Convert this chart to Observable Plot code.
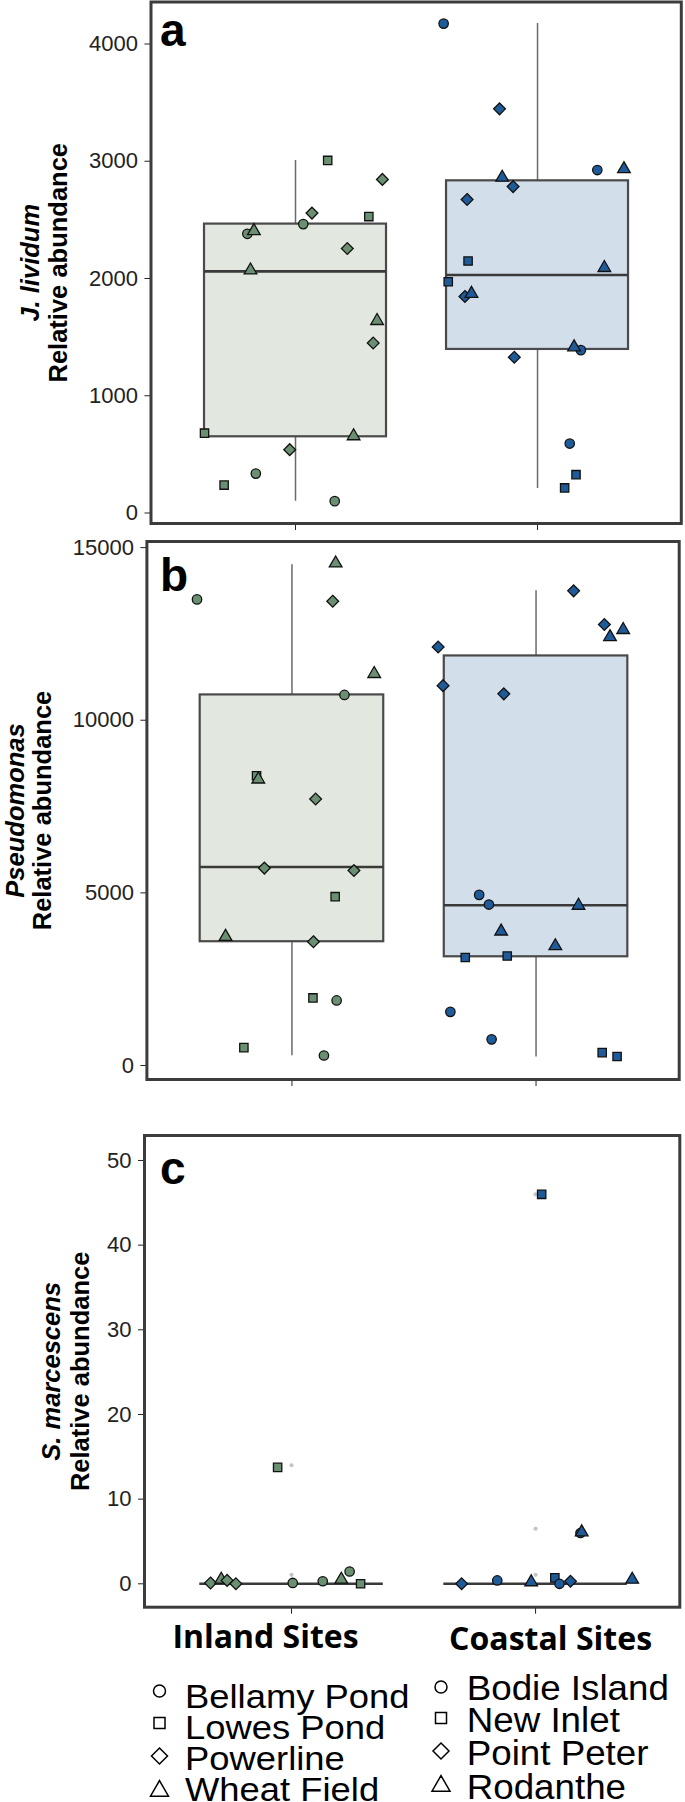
<!DOCTYPE html>
<html>
<head>
<meta charset="utf-8">
<script src="https://cdn.jsdelivr.net/npm/d3@7"></script>
<script src="https://cdn.jsdelivr.net/npm/@observablehq/plot@0.6"></script>
<style>
  html, body { margin: 0; padding: 0; background: #fff; }
  #root { position: relative; width: 685px; height: 1802px; overflow: hidden; background: #fff; }
</style>
</head>
<body>
<div id="root"></div>
<script>
// ---------------- data ----------------
const groups = ["Inland Sites", "Coastal Sites"];
const inlandSites = ["Bellamy Pond", "Lowes Pond", "Powerline", "Wheat Field"];
const coastalSites = ["Bodie Island", "New Inlet", "Point Peter", "Rodanthe"];
const panelLetters = ["a", "b", "c"];
const taxa = ["J. lividum", "Pseudomonas", "S. marcescens"];
const yLabel = "Relative abundance";
const yTicksA = [0, 1000, 2000, 3000, 4000];
const yTicksB = [0, 5000, 10000, 15000];
const yTicksC = [0, 10, 20, 30, 40, 50];

// points: [site, jittered group position (1 = Inland, 2 = Coastal), relative abundance]
const jlividumPoints = [
  ["Bellamy Pond", 0.801, 2381], ["Bellamy Pond", 1.032, 2464], ["Bellamy Pond", 0.836, 336], ["Bellamy Pond", 1.162, 101],
  ["Lowes Pond", 1.133, 3007], ["Lowes Pond", 1.303, 2528], ["Lowes Pond", 0.624, 681], ["Lowes Pond", 0.705, 238],
  ["Powerline", 1.068, 2558], ["Powerline", 1.214, 2256], ["Powerline", 1.359, 2845], ["Powerline", 1.321, 1450], ["Powerline", 0.976, 540],
  ["Wheat Field", 0.828, 2406], ["Wheat Field", 0.814, 2070], ["Wheat Field", 1.337, 1639], ["Wheat Field", 1.240, 656],
  ["Bodie Island", 1.612, 4174], ["Bodie Island", 2.247, 2925], ["Bodie Island", 2.179, 1389], ["Bodie Island", 2.133, 592],
  ["New Inlet", 1.713, 2149], ["New Inlet", 1.631, 1972], ["New Inlet", 2.159, 327], ["New Inlet", 2.112, 214],
  ["Point Peter", 1.843, 3447], ["Point Peter", 1.709, 2674], ["Point Peter", 1.899, 2784], ["Point Peter", 1.700, 1847], ["Point Peter", 1.904, 1328],
  ["Rodanthe", 1.854, 2861], ["Rodanthe", 2.357, 2934], ["Rodanthe", 2.276, 2091], ["Rodanthe", 1.727, 1871], ["Rodanthe", 2.151, 1414]
];
const pseudomonasPoints = [
  ["Bellamy Pond", 0.611, 13500], ["Bellamy Pond", 1.215, 10733], ["Bellamy Pond", 1.183, 1885], ["Bellamy Pond", 1.131, 290],
  ["Lowes Pond", 0.855, 8391], ["Lowes Pond", 1.177, 4890], ["Lowes Pond", 1.086, 1958], ["Lowes Pond", 0.803, 518],
  ["Wheat Field", 1.179, 14545], ["Wheat Field", 1.337, 11344], ["Wheat Field", 0.862, 8288], ["Wheat Field", 0.728, 3730],
  ["Powerline", 1.167, 13447], ["Powerline", 1.097, 7718], ["Powerline", 0.887, 5718], ["Powerline", 1.254, 5646], ["Powerline", 1.088, 3585],
  ["Bodie Island", 1.767, 4942], ["Bodie Island", 1.807, 4662], ["Bodie Island", 1.649, 1554], ["Bodie Island", 1.818, 757],
  ["New Inlet", 1.710, 3129], ["New Inlet", 1.882, 3170], ["New Inlet", 2.271, 373], ["New Inlet", 2.332, 259],
  ["Point Peter", 2.154, 13747], ["Point Peter", 2.280, 12773], ["Point Peter", 1.599, 12120], ["Point Peter", 1.619, 11002], ["Point Peter", 1.868, 10764],
  ["Rodanthe", 2.357, 12618], ["Rodanthe", 2.303, 12411], ["Rodanthe", 2.174, 4631], ["Rodanthe", 1.857, 3885], ["Rodanthe", 2.079, 3460]
];
const serratiaPoints = [
  ["Powerline", 0.668, 0.1], ["Wheat Field", 0.712, 0.5], ["Powerline", 0.736, 0.4], ["Powerline", 0.772, 0],
  ["Bellamy Pond", 1.005, 0.1], ["Bellamy Pond", 1.128, 0.3], ["Wheat Field", 1.204, 0.5], ["Bellamy Pond", 1.238, 1.45],
  ["Lowes Pond", 1.283, 0], ["Lowes Pond", 0.943, 13.75],
  ["Point Peter", 1.697, 0], ["Bodie Island", 1.843, 0.4], ["Rodanthe", 1.982, 0.2], ["New Inlet", 2.079, 0.7],
  ["Bodie Island", 2.098, 0], ["Point Peter", 2.143, 0.3], ["Rodanthe", 2.396, 0.5], ["New Inlet", 2.025, 46],
  ["Bodie Island", 2.184, 6], ["Rodanthe", 2.189, 6.1]
];

// box statistics: [group position, lower whisker, Q1, median, Q3, upper whisker]
const jlividumBoxes = [[1, 101, 650, 2061, 2464, 3007], [2, 208, 1395, 2030, 2833, 4174]];
const pseudomonasBoxes = [[1, 280, 3585, 5750, 10733, 14504], [2, 249, 3149, 4641, 11862, 13747]];
const serratiaBoxes = [[1, 0, 0, 0, 0, 0], [2, 0, 0, 0, 0, 0]];
// box-plot outliers (small grey dots): [group position, value]
const serratiaOutliers = [[1, 14], [1, 1.06], [2, 46], [2, 6.5], [2, 1.06]];

// ---------------- styling ----------------
const FONT = "'Liberation Sans', Arial, Helvetica, sans-serif";
const pointColors = ["#6a9071", "#1f5b98"];
const boxFills = ["#e2e8df", "#d2deea"];
const diamond = { draw(ctx, size) { const r = Math.sqrt(size / 2); ctx.moveTo(0, -r); ctx.lineTo(r, 0); ctx.lineTo(0, r); ctx.lineTo(-r, 0); ctx.closePath(); } };
const shapeRange = [d3.symbolCircle, d3.symbolSquare, diamond, d3.symbolTriangle];
const BW = 0.376;

const root = document.getElementById("root");
function place(el, top) {
  el.style.position = "absolute";
  el.style.left = "0px";
  el.style.top = top + "px";
  root.appendChild(el);
}

function panel(points, boxes, outliers, ticks, letter, taxon, L) {
  const boxRows = boxes.map(([g, lo, q1, med, q3, hi]) => ({ g, lo, q1, med, q3, hi }));
  const ptRows = points.map(([site, x, v]) => ({ site, x, v, group: inlandSites.includes(site) ? groups[0] : groups[1] }));
  const marks = [
    Plot.ruleX(boxRows, { x: "g", y1: "lo", y2: "hi", stroke: "#6a6a6a", strokeWidth: 1.5 }),
    Plot.rect(boxRows.filter(d => d.g === 1), { x1: d => d.g - BW, x2: d => d.g + BW, y1: "q1", y2: "q3", fill: boxFills[0], stroke: "#4a4a4a", strokeWidth: 2.2 }),
    Plot.rect(boxRows.filter(d => d.g === 2), { x1: d => d.g - BW, x2: d => d.g + BW, y1: "q1", y2: "q3", fill: boxFills[1], stroke: "#4a4a4a", strokeWidth: 2.2 }),
    Plot.ruleY(boxRows, { x1: d => d.g - BW, x2: d => d.g + BW, y: "med", stroke: "#3a3a3a", strokeWidth: 2.6 }),
    Plot.dot(outliers, { x: d => d[0], y: d => d[1], r: 2.1, fill: "#c4c4c4", stroke: "none" }),
    Plot.dot(ptRows, { x: "x", y: "v", symbol: "site", fill: "group", stroke: "#111", strokeWidth: 1.3, r: 4.7 }),
    Plot.frame({ stroke: "#3c3c3c", strokeWidth: 3 }),
    Plot.text([letter], { text: d => d, frameAnchor: "top-left", textAnchor: "start", lineAnchor: "bottom", dx: L.ldx, dy: L.ldy, fontSize: 46, fontWeight: "bold", fill: "#000" }),
    Plot.text([taxon], { text: d => d, frameAnchor: "left", rotate: -90, textAnchor: "middle", lineAnchor: "middle", dx: L.t1 - L.ml, fontSize: 25.5, fontWeight: "bold", fontStyle: "italic", fill: "#000" }),
    Plot.text([yLabel], { text: d => d, frameAnchor: "left", rotate: -90, textAnchor: "middle", lineAnchor: "middle", dx: L.t2 - L.ml, fontSize: 25.5, fontWeight: "bold", fill: "#000" })
  ];
  if (L.xlabels) {
    const rows = groups.map((g, i) => ({ g, pos: i + 1 }));
    marks.push(
      Plot.text(rows.slice(0, 1), { x: "pos", text: "g", frameAnchor: "bottom", lineAnchor: "bottom", dx: -26, dy: 40.3, fontFamily: "'Open Sans', sans-serif", fontWeight: "bold", fontSize: 32, fill: "#000" }),
      Plot.text(rows.slice(1, 2), { x: "pos", text: "g", frameAnchor: "bottom", lineAnchor: "bottom", dx: 15, dy: 42.3, fontFamily: "'Open Sans', sans-serif", fontWeight: "bold", fontSize: 32, fill: "#000" })
    );
  }
  return Plot.plot({
    width: 685,
    height: L.height,
    marginLeft: L.ml, marginRight: L.mr, marginTop: L.mt, marginBottom: L.mb,
    x: { domain: L.xd, ticks: [1, 2], tickSize: 7, tickFormat: () => "", label: null },
    y: { domain: L.yd, ticks, tickSize: 6, tickPadding: 7, tickFormat: d3.format("d"), label: null },
    color: { domain: groups, range: pointColors },
    symbol: { domain: [...inlandSites, ...coastalSites], range: [...shapeRange, ...shapeRange] },
    style: { fontFamily: FONT, fontSize: "22px", color: "#222", background: "transparent", overflow: "visible" },
    marks
  });
}

const svgA = panel(jlividumPoints, jlividumBoxes, [], yTicksA, panelLetters[0], taxa[0], {
  height: 536, ml: 150.5, mr: 4.2, mt: 1.5, mb: 13,
  xd: [0.4029, 2.594], yd: [-89.55, 4358.2], ldx: 9, ldy: 43.5, t1: 30, t2: 58
});
place(svgA, 0);

const svgB = panel(pseudomonasPoints, pseudomonasBoxes, [], yTicksB, panelLetters[1], taxa[1], {
  height: 564, ml: 146.4, mr: 6.3, mt: 5, mb: 21,
  xd: [0.4057, 2.5865], yd: [-405.5, 15176.5], ldx: 13, ldy: 49, t1: 15, t2: 42
});
place(svgB, 536);

const svgC = panel(serratiaPoints, serratiaBoxes, serratiaOutliers, yTicksC, panelLetters[2], taxa[2], {
  height: 560, ml: 144, mr: 5.7, mt: 35, mb: 53.3,
  xd: [0.3975, 2.591], yd: [-2.764, 52.95], ldx: 15.6, ldy: 48, t1: 51, t2: 80, xlabels: true
});
// the group labels use a condensed bold face in the original: fit them to the measured widths
d3.select(svgC).selectAll("text")
  .filter(function () { return this.textContent === groups[0]; })
  .attr("textLength", 186).attr("lengthAdjust", "spacingAndGlyphs");
d3.select(svgC).selectAll("text")
  .filter(function () { return this.textContent === groups[1]; })
  .attr("textLength", 203).attr("lengthAdjust", "spacingAndGlyphs");
place(svgC, 1100);

// ---------------- legend (below the charts) ----------------
const legendSvg = d3.create("svg").attr("width", 685).attr("height", 142).style("overflow", "visible");
const legendCols = [
  { sites: inlandSites, sx: 159.5, symY: [31, 63, 96, 131], tx: 185, baseY: [48, 79, 110, 141], fontSize: 32.5, stretch: 1.12 },
  { sites: coastalSites, sx: 441, symY: [27, 58, 91, 126], tx: 466.7, baseY: [40, 72, 105, 139], fontSize: 35, stretch: 1.05 }
];
const legendSizes = [113, 121, 128, 140];
for (const col of legendCols) {
  col.sites.forEach((site, i) => {
    legendSvg.append("path")
      .attr("d", d3.symbol(shapeRange[i], legendSizes[i])())
      .attr("transform", `translate(${col.sx},${col.symY[i]})`)
      .attr("fill", "none").attr("stroke", "#000").attr("stroke-width", 1.5);
    legendSvg.append("text")
      .attr("transform", `translate(${col.tx},${col.baseY[i]}) scale(${col.stretch},1)`)
      .attr("font-family", FONT).attr("font-size", col.fontSize).attr("fill", "#000")
      .text(site);
  });
}
place(legendSvg.node(), 1660);
</script>
</body>
</html>
